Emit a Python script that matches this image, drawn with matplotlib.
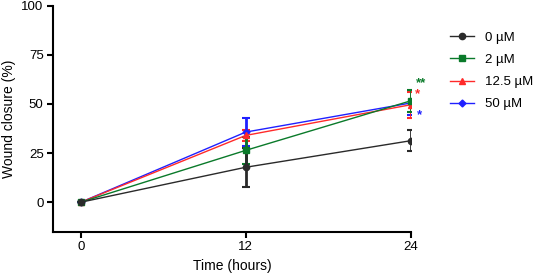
import matplotlib
matplotlib.use("Agg")
import matplotlib.pyplot as plt
from matplotlib.lines import Line2D

plt.rcParams['font.family'] = ['Liberation Sans', 'DejaVu Sans']

time = [0, 12, 24]
labels = ["0 \u00b5M", "2 \u00b5M", "12.5 \u00b5M", "50 \u00b5M"]
vals_0 = [0, 17.8, 31.3]
err_0 = [0, 10.0, 5.3]
vals_2 = [0, 26.4, 51.6]
err_2 = [0, 6.9, 5.5]
vals_125 = [0, 34.0, 49.6]
err_125 = [0, 3.0, 6.7]
vals_50 = [0, 35.7, 50.5]
err_50 = [0, 7.2, 6.0]

stars = ["**", "*", "*"]
star_y = [60.5, 55.0, 44.5]
star_x = [24.35, 24.3, 24.45]
star_colors = ["#0a7a2a", "#ff2a2a", "#2020ff"]

series = [
    (vals_0, err_0, "#2a2a2a", "o", 4.5),
    (vals_2, err_2, "#0a7a2a", "s", 4.5),
    (vals_125, err_125, "#ff2a2a", "^", 4.5),
    (vals_50, err_50, "#2020ff", "D", 3.5),
]

fig = plt.figure(figsize=(5.33, 2.78), dpi=100)
ax = fig.add_axes([0.1, 0.1665, 0.6706, 0.813])

handles = []
for (v, e, c, m, ms), lab in zip(reversed(series), reversed(labels)):
    ax.errorbar(time, v, yerr=e, color=c, ecolor=c, elinewidth=2.0, capsize=3,
                capthick=1.5, lw=1.0, marker=m, markersize=ms, zorder=3)
for (v, e, c, m, ms), lab in zip(series, labels):
    handles.append(Line2D([], [], color=c, lw=1.0, marker=m, markersize=ms, label=lab))

for s, x, y, c in zip(stars, star_x, star_y, star_colors):
    ax.text(x, y, s, color=c, fontsize=9.5, fontweight='bold', ha='left', va='center')

ax.set_xlim(-2, 24)
ax.set_ylim(-15, 100)
ax.set_xticks([0, 12, 24])
ax.set_yticks([0, 25, 50, 75, 100])
ax.spines['top'].set_visible(False)
ax.spines['right'].set_visible(False)
for sp in ['left', 'bottom']:
    ax.spines[sp].set_linewidth(1.5)
ax.tick_params(axis='both', width=1.5, length=4, labelsize=9.5, pad=3)
ax.set_xlabel("Time (hours)", fontsize=10)
ax.set_ylabel("Wound closure (%)", fontsize=10)

fig.legend(handles=handles, loc='upper left', bbox_to_anchor=(0.835, 0.905),
           frameon=False, fontsize=9.5, handlelength=1.8, handletextpad=0.8,
           labelspacing=0.75, borderaxespad=0)

fig.savefig("out.png", dpi=100)
